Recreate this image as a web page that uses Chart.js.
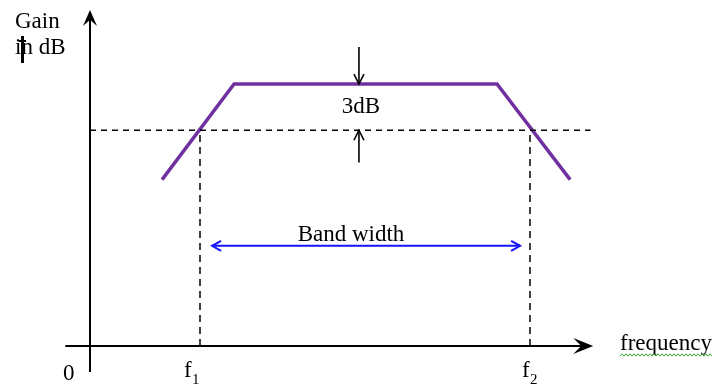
<!DOCTYPE html>
<html>
<head>
<meta charset="utf-8">
<script src="https://cdn.jsdelivr.net/npm/chart.js@4/dist/chart.umd.min.js"></script>
<style>
	html, body { margin: 0; padding: 0; background: #fff; }
	#bw { display: block; }
</style>
</head>
<body>
<canvas id="bw" width="718" height="385"></canvas>
<script>
// response curve (frequency units, gain in dB)
const respFreq = [1.31, 2.62, 7.4, 8.73];
const respGain = [10.8, 17, 17, 10.8];
// cut-off points and -3dB level
const f1 = 2, f2 = 8;
const peakGain = 17;
const cutGain = 14;
// axes extent
const axisFreq = [-0.45, 9.15];
const axisGain = [-1.69, 21.8];
const dashEnd = 9.1;
// band width arrow
const bwFreq = [2.22, 7.82];
const bwGain = 6.5;
// 3dB marker arrows
const mark3dbFreq = 4.89;
const mark3dbTop = 19.4;
const mark3dbBottom = 11.9;

const FONT = "'Liberation Serif', 'Times New Roman', serif";
const pts = (xs, ys) => xs.map((x, i) => ({ x: x, y: ys[i] }));
const seg = (data, color, width, dash) => ({
	data: data, showLine: true, borderColor: color, borderWidth: width,
	borderDash: dash || [], pointRadius: 0, fill: false, tension: 0,
});

function head(ctx, x, y, dx, dy, len, half, filled) {
	const n = Math.hypot(dx, dy); dx /= n; dy /= n;
	const px = -dy, py = dx;
	ctx.beginPath();
	if (filled) {
		ctx.moveTo(x, y);
		ctx.lineTo(x - dx * len + px * half, y - dy * len + py * half);
		ctx.lineTo(x - dx * len * 0.6, y - dy * len * 0.6);
		ctx.lineTo(x - dx * len - px * half, y - dy * len - py * half);
		ctx.closePath();
		ctx.fill();
	} else {
		ctx.moveTo(x - dx * len + px * half, y - dy * len + py * half);
		ctx.lineTo(x, y);
		ctx.lineTo(x - dx * len - px * half, y - dy * len - py * half);
		ctx.stroke();
	}
}

const decor = {
	id: 'decor',
	afterDatasetsDraw(chart) {
		const ctx = chart.ctx;
		const sx = chart.scales.x, sy = chart.scales.y;
		const X = v => sx.getPixelForValue(v), Y = v => sy.getPixelForValue(v);
		ctx.save();
		// axis arrowheads
		ctx.fillStyle = '#000';
		head(ctx, X(0), Y(axisGain[1]), 0, -1, 16, 7, true);
		head(ctx, X(axisFreq[1]), Y(0), 1, 0, 20, 8, true);
		// 3dB arrows
		ctx.strokeStyle = '#000'; ctx.lineWidth = 1.6;
		head(ctx, X(mark3dbFreq), Y(peakGain), 0, 1, 10, 5, false);
		head(ctx, X(mark3dbFreq), Y(cutGain), 0, -1, 10, 5, false);
		// band width arrowheads
		ctx.strokeStyle = '#1515ff'; ctx.lineWidth = 2;
		head(ctx, X(bwFreq[0]), Y(bwGain), -1, 0, 9, 5, false);
		head(ctx, X(bwFreq[1]), Y(bwGain), 1, 0, 9, 5, false);

		// texts
		ctx.fillStyle = '#000';
		ctx.textBaseline = 'alphabetic';
		ctx.font = '23px ' + FONT;
		ctx.textAlign = 'left';
		ctx.fillText('Gain', 15, 28);
		ctx.fillText('in dB', 15, 54);
		ctx.fillText('0', 63, 380);
		ctx.fillText('f', X(f1) - 16, 377);
		ctx.fillText('f', X(f2) - 8, 377);
		ctx.fillText('frequency', 620, 350);
		ctx.textAlign = 'center';
		ctx.fillText('3dB', X(mark3dbFreq) + 2, 113);
		ctx.fillText('Band width', 351, 241);
		ctx.font = '15px ' + FONT;
		ctx.textAlign = 'left';
		ctx.fillText('1', X(f1) - 8, 384);
		ctx.fillText('2', X(f2), 384);

		// text cursor mark over "in"
		ctx.fillRect(21, 36, 3, 27);
		ctx.fillRect(19, 40, 7, 2);

		// spell-check squiggle under "frequency"
		ctx.strokeStyle = '#3aa63a'; ctx.lineWidth = 1;
		ctx.beginPath();
		for (let x = 620, k = 0; x <= 712; x += 2, k++) {
			const y = 355 + (k % 2 ? -1.2 : 1.2);
			if (x === 620) ctx.moveTo(x, y); else ctx.lineTo(x, y);
		}
		ctx.stroke();
		ctx.restore();
	},
};

new Chart(document.getElementById('bw').getContext('2d'), {
	type: 'scatter',
	data: {
		datasets: [
			seg(pts([axisFreq[0], axisFreq[1] - 0.2], [0, 0]), '#000', 2),
			seg(pts([0, 0], [axisGain[0], axisGain[1] - 0.5]), '#000', 2),
			seg(pts([0, dashEnd], [cutGain, cutGain]), '#000', 1.5, [6, 5]),
			seg(pts([f1, f1], [0, cutGain]), '#000', 1.5, [7, 5]),
			seg(pts([f2, f2], [0, cutGain]), '#000', 1.5, [7, 5]),
			seg(pts(bwFreq, [bwGain, bwGain]), '#1515ff', 2),
			seg(pts([mark3dbFreq, mark3dbFreq], [mark3dbTop, peakGain]), '#000', 1.6),
			seg(pts([mark3dbFreq, mark3dbFreq], [mark3dbBottom, cutGain]), '#000', 1.6),
			seg(pts(respFreq, respGain), '#7030a0', 3.5),
		],
	},
	options: {
		responsive: false,
		animation: false,
		devicePixelRatio: 1,
		layout: { padding: 0 },
		plugins: { legend: { display: false }, tooltip: { enabled: false } },
		scales: {
			x: { type: 'linear', display: false, min: -90 / 55, max: 628 / 55 },
			y: { type: 'linear', display: false, min: -39 / 15.41, max: 346 / 15.41 },
		},
	},
	plugins: [decor],
});
</script>
</body>
</html>
